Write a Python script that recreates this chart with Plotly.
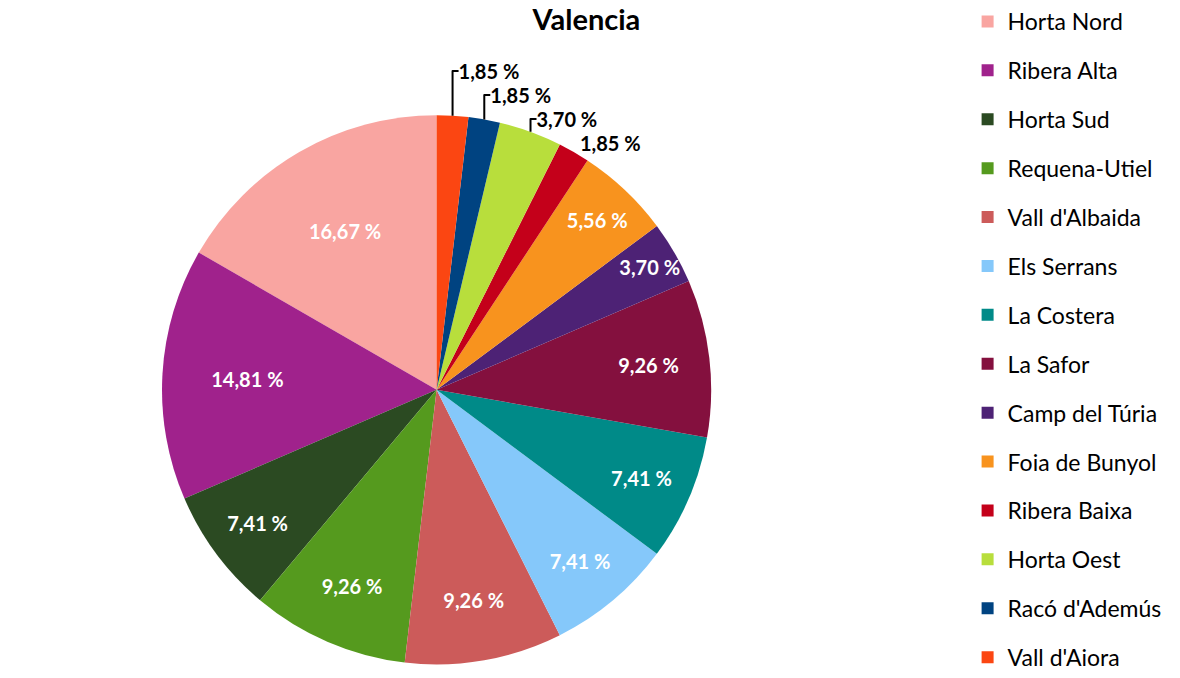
import plotly.graph_objects as go

categories = ["Horta Nord", "Ribera Alta", "Horta Sud", "Requena-Utiel", "Vall d'Albaida",
              "Els Serrans", "La Costera", "La Safor", "Camp del Túria", "Foia de Bunyol",
              "Ribera Baixa", "Horta Oest", "Racó d'Ademús", "Vall d'Aiora"]
counts = [9, 8, 4, 5, 5, 4, 4, 5, 2, 3, 1, 2, 1, 1]
colors = ["#F9A5A1", "#A0228C", "#2B4A22", "#559A1E", "#CC5B5A",
          "#85C8FA", "#008A88", "#84103E", "#4D2275", "#F8931E",
          "#C4001A", "#B8DE3C", "#004381", "#FB4612"]

total = sum(counts)
text_labels = [f"{c / total * 100:.2f} %".replace(".", ",") for c in counts]
outside_labels = {"Ribera Baixa", "Horta Oest", "Racó d'Ademús", "Vall d'Aiora"}
positions = ["outside" if cat in outside_labels else "inside" for cat in categories]
text_colors = ["black" if cat in outside_labels else "white" for cat in categories]

FONT = "Lato, 'Open Sans', sans-serif"

fig = go.Figure()
fig.add_trace(go.Pie(
    labels=categories,
    values=counts,
    text=text_labels,
    textinfo="text",
    textposition=positions,
    insidetextorientation="horizontal",
    textfont=dict(family=FONT, size=20, color=text_colors, weight="bold"),
    marker=dict(colors=colors, line=dict(width=0)),
    sort=False,
    direction="counterclockwise",
    rotation=300,
    showlegend=False,
    domain=dict(x=[0.12, 0.62], y=[0.02, 0.83]),
))

for cat, col in zip(categories, colors):
    fig.add_trace(go.Scatter(
        x=[None], y=[None], mode="markers", name=cat,
        legendgroup=cat,
        marker=dict(symbol="square", size=15, color=col),
        hoverinfo="skip",
    ))

fig.update_layout(
    width=1180, height=678,
    margin=dict(l=0, r=0, t=0, b=0),
    paper_bgcolor="white", plot_bgcolor="white",
    font=dict(family=FONT, color="black"),
    uniformtext=dict(minsize=20, mode="show"),
    title=dict(text="<b>Valencia</b>", x=0.497, xanchor="center", y=0.97, yanchor="middle",
               font=dict(family=FONT, size=29, color="black")),
    xaxis=dict(visible=False), yaxis=dict(visible=False),
    legend=dict(x=0.82, xanchor="left", y=1.0, yanchor="top",
                font=dict(family=FONT, size=23, color="black"),
                tracegroupgap=16, itemsizing="constant", bgcolor="rgba(0,0,0,0)",
                maxheight=740),
)

fig.write_html("out.html")
